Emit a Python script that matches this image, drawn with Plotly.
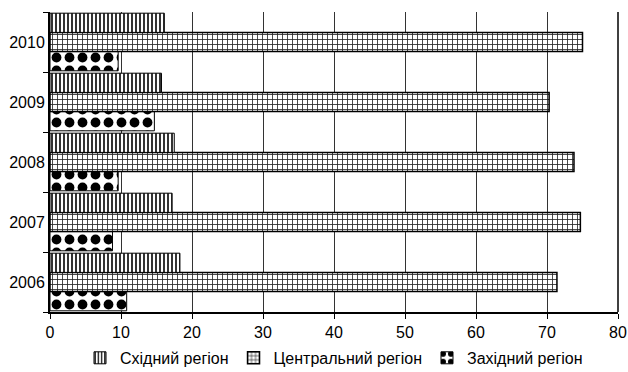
import plotly.graph_objects as go

years = ["2006", "2007", "2008", "2009", "2010"]
east = [18.3, 17.2, 17.5, 15.7, 16.1]
central = [71.4, 74.7, 73.8, 70.3, 75.0]
west = [10.8, 8.8, 9.6, 14.7, 9.6]
names = ["Східний регіон", "Центральний регіон", "Західний регіон"]
x_ticks = [0, 10, 20, 30, 40, 50, 60, 70, 80]

font = dict(family="Liberation Sans", size=16, color="black")
legend_font = dict(family="Liberation Sans", size=16, color="black")

fig = go.Figure()
fig.add_trace(go.Bar(
    y=years, x=west, name=names[2], orientation="h",
    marker=dict(color="white", line=dict(color="black", width=1),
                pattern=dict(shape=".", fgcolor="black", bgcolor="white",
                             fgopacity=1, size=13, solidity=0.45)),
))
fig.add_trace(go.Bar(
    y=years, x=central, name=names[1], orientation="h",
    marker=dict(color="white", line=dict(color="black", width=1.5),
                pattern=dict(shape="+", fgcolor="#222222", bgcolor="white",
                             fgopacity=1, size=5, solidity=0.3)),
))
fig.add_trace(go.Bar(
    y=years, x=east, name=names[0], orientation="h",
    marker=dict(color="white", line=dict(color="black", width=1),
                pattern=dict(shape="|", fgcolor="black", bgcolor="white",
                             fgopacity=1, size=4, solidity=0.4)),
))

fig.update_layout(
    width=628, height=372,
    margin=dict(l=50, r=10, t=12, b=60, autoexpand=False),
    paper_bgcolor="white", plot_bgcolor="white",
    barmode="group", bargap=0.04, bargroupgap=0,
    font=font,
    showlegend=True,
    legend=dict(orientation="h", x=0.5, xanchor="center", y=-0.153, yanchor="middle",
                traceorder="reversed", font=legend_font, itemwidth=30),
    xaxis=dict(range=[0, 80], tickvals=x_ticks, showgrid=True, gridcolor="#333333",
               gridwidth=1, zeroline=False, showline=True, linecolor="black",
               linewidth=1.5, ticks="outside", ticklen=5, tickcolor="black",
               tickfont=font),
    yaxis=dict(type="category", categoryorder="array", categoryarray=years,
               showline=True, linecolor="black", linewidth=2, ticks="outside",
               tickson="boundaries", ticklen=5, tickcolor="black", tickfont=font,
               showgrid=False),
    shapes=[dict(type="line", xref="paper", yref="paper", x0=1, x1=1, y0=0, y1=1,
                 line=dict(color="black", width=1.5))],
)

fig.write_html("out.html")
